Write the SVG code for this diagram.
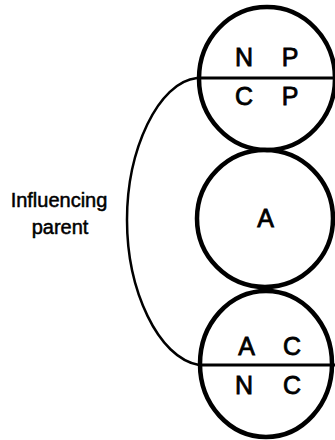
<svg xmlns="http://www.w3.org/2000/svg" width="335" height="440" viewBox="0 0 335 440">
  <style>
    .ring { fill: none; stroke: #000; stroke-width: 4.5; }
    .split { stroke: #000; stroke-width: 3; }
    .link { fill: none; stroke: #000; stroke-width: 2.5; }
    .sym { font-family: "Liberation Sans", Arial, sans-serif; font-size: 25px; fill: #000; stroke: #000; stroke-width: 0.8; text-anchor: middle; }
    .note { font-family: "Liberation Sans", Arial, sans-serif; font-size: 20px; fill: #000; stroke: #000; stroke-width: 0.5; text-anchor: middle; }
  </style>
  <rect width="335" height="440" fill="#fff"/>

  <!-- connector: influencing parent link between top and bottom ego states -->
  <g id="connectors">
    <path class="link" d="M197,78 C158,82 127,150 127,220 C127,290 158,358 199,365"/>
  </g>

  <!-- parent ego state -->
  <g id="node-parent">
    <ellipse class="ring" cx="267" cy="78.5" rx="68" ry="71.5"/>
    <line class="split" x1="197" y1="78" x2="335" y2="78"/>
    <text class="sym" x="244" y="66">N</text>
    <text class="sym" x="290" y="66">P</text>
    <text class="sym" x="244" y="105">C</text>
    <text class="sym" x="290" y="105">P</text>
  </g>

  <!-- adult ego state -->
  <g id="node-adult">
    <ellipse class="ring" cx="265" cy="218.5" rx="68" ry="68.5"/>
    <text class="sym" x="265.5" y="227">A</text>
  </g>

  <!-- child ego state -->
  <g id="node-child">
    <ellipse class="ring" cx="266" cy="364" rx="66" ry="73"/>
    <line class="split" x1="199" y1="365" x2="335" y2="365"/>
    <text class="sym" x="246.5" y="355">A</text>
    <text class="sym" x="292" y="355">C</text>
    <text class="sym" x="244" y="393.5">N</text>
    <text class="sym" x="292" y="393.5">C</text>
  </g>

  <!-- label for the connector -->
  <g id="label-influencing-parent">
    <text class="note" x="59" y="207">Influencing</text>
    <text class="note" x="60" y="234">parent</text>
  </g>
</svg>
